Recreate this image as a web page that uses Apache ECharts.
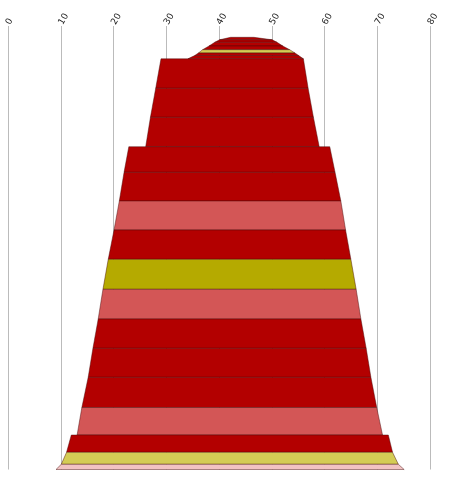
<!DOCTYPE html>
<html>
<head>
<meta charset="utf-8">
<script src="https://cdn.jsdelivr.net/npm/echarts@6/dist/echarts.min.js"></script>
<style>html,body{margin:0;padding:0;background:#fff;}#c{width:452px;height:477px;}</style>
</head>
<body>
<div id="c"></div>
<script>
// Layer data: depth top/bottom, left/right extents at top and bottom, lithology code
var depthTop    = [1.13,1.38,1.63,2.0,2.37,2.7,2.95,3.28,6.23,9.13,12.07,14.63,17.5,20.4,23.33,26.33,29.3,32.23,35.13,38.15,40.9,42.63,43.83];
var depthBottom = [1.38,1.63,2.0,2.37,2.7,2.95,3.28,6.23,9.13,12.07,14.63,17.5,20.4,23.33,26.33,29.3,32.23,35.13,38.15,40.9,42.63,43.83,44.35];
var topLeft     = [42.2,40.1,39.2,38.1,36.9,36.1,35.4,29.0,28.0,27.0,22.9,22.0,21.1,20.1,19.0,18.0,17.1,16.1,15.2,14.0,12.0,11.1,10.1];
var topRight    = [46.6,50.1,51.0,52.1,53.4,54.4,55.1,56.0,56.9,57.9,61.0,62.0,63.1,64.0,65.0,66.0,66.9,67.9,68.8,69.9,72.1,72.9,74.0];
var botLeft     = [40.1,39.2,38.1,36.9,36.1,35.4,34.1,28.0,27.0,26.1,22.0,21.1,20.1,19.0,18.0,17.1,16.1,15.2,14.0,13.1,11.1,10.1,9.1];
var botRight    = [50.1,51.0,52.1,53.4,54.4,55.1,56.0,56.9,57.9,59.0,62.0,63.1,64.0,65.0,66.0,66.9,67.9,68.8,69.9,71.0,72.9,74.0,75.1];
var lithology   = ['A','A','A','A','D','A','A','A','A','A','A','A','B','A','C','B','A','A','A','B','A','D','E'];
var xTicks = [0,10,20,30,40,50,60,70,80];

var lithColors = {A:'#b30000', B:'#d35656', C:'#b5aa00', D:'#d4cc55', E:'#f2c3c3'};

var data = depthTop.map(function(t,i){
  return [topLeft[i], t, topRight[i], depthBottom[i], botLeft[i], botRight[i], i];
});

var chart = echarts.init(document.getElementById('c'));
chart.setOption({
  animation:false,
  grid:{left:8, right:22, top:26, bottom:7.5},
  xAxis:{
    type:'value', position:'top', min:xTicks[0], max:xTicks[xTicks.length-1], interval:10,
    axisLine:{show:false}, axisTick:{show:false},
    axisLabel:{rotate:60, color:'#222', fontSize:9, fontFamily:'DejaVu Sans', margin:2},
    splitLine:{show:true, lineStyle:{color:'#bbbbbb', width:1}}
  },
  yAxis:{
    type:'value', inverse:true, min:0, max:44.35,
    show:false, splitLine:{show:false}
  },
  series:[{
    type:'custom',
    data:data,
    encode:{x:[0,2,4,5], y:[1,3]},
    renderItem:function(params, api){
      var tl = api.coord([api.value(0), api.value(1)]);
      var tr = api.coord([api.value(2), api.value(1)]);
      var br = api.coord([api.value(5), api.value(3)]);
      var bl = api.coord([api.value(4), api.value(3)]);
      var idx = api.value(6);
      return {
        type:'polygon',
        shape:{points:[tl,tr,br,bl]},
        style:{fill:lithColors[lithology[idx]], stroke:'rgba(70,10,10,0.75)', lineWidth:0.6}
      };
    }
  }]
});
</script>
</body>
</html>
